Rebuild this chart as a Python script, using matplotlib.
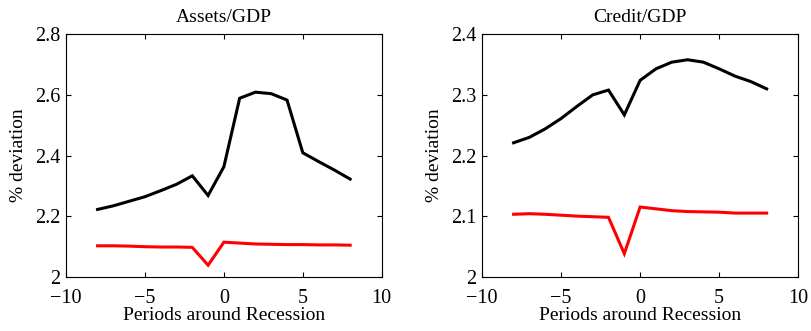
import matplotlib
matplotlib.use("Agg")
import matplotlib.pyplot as plt

plt.rcParams['font.family'] = ['Liberation Serif', 'DejaVu Serif']
plt.rcParams['axes.unicode_minus'] = True

periods = list(range(-8, 9))

assets_black = [2.222, 2.234, 2.249, 2.264, 2.284, 2.305, 2.333, 2.268, 2.363,
                2.589, 2.609, 2.604, 2.583, 2.409, 2.380, 2.352, 2.322]
assets_red = [2.102, 2.102, 2.101, 2.099, 2.098, 2.098, 2.097, 2.038, 2.114,
              2.111, 2.108, 2.107, 2.106, 2.106, 2.105, 2.105, 2.104]

credit_black = [2.221, 2.230, 2.244, 2.261, 2.281, 2.300, 2.308, 2.267, 2.324,
                2.343, 2.354, 2.358, 2.354, 2.343, 2.331, 2.322, 2.310]
credit_red = [2.103, 2.104, 2.103, 2.1015, 2.100, 2.099, 2.098, 2.038, 2.115,
              2.112, 2.109, 2.1075, 2.107, 2.1065, 2.105, 2.105, 2.105]

panels = [
    ("Assets/GDP", assets_black, assets_red, (2.0, 2.8), [2, 2.2, 2.4, 2.6, 2.8],
     ["2", "2.2", "2.4", "2.6", "2.8"]),
    ("Credit/GDP", credit_black, credit_red, (2.0, 2.4), [2, 2.1, 2.2, 2.3, 2.4],
     ["2", "2.1", "2.2", "2.3", "2.4"]),
]
x_ticks = [-10, -5, 0, 5, 10]
x_ticklabels = ["\u221210", "\u22125", "0", "5", "10"]

fig = plt.figure(figsize=(8.11, 3.31), dpi=100)
positions = [[0.0814, 0.164, 0.3893, 0.7324], [0.5943, 0.164, 0.3900, 0.7324]]

for pos, (title, black, red, ylim, yticks, yticklabels) in zip(positions, panels):
    ax = fig.add_axes(pos)
    ax.plot(periods, black, color="black", lw=2.2, solid_joinstyle="miter")
    ax.plot(periods, red, color="#ff0000", lw=2.2, solid_joinstyle="miter")
    ax.set_xlim(-10, 10)
    ax.set_ylim(*ylim)
    ax.set_xticks(x_ticks)
    ax.set_xticklabels(x_ticklabels)
    ax.set_yticks(yticks)
    ax.set_yticklabels(yticklabels)
    ax.tick_params(direction="in", top=True, right=True, length=3.5, width=0.8,
                   labelsize=14.5)
    ax.tick_params(axis="x", pad=9)
    ax.tick_params(axis="y", pad=4)
    for s in ax.spines.values():
        s.set_linewidth(0.8)
    ax.set_title(title, fontsize=14, pad=9)
    ax.set_xlabel("Periods around Recession", fontsize=14, labelpad=-1)
    ax.set_ylabel("% deviation", fontsize=14, labelpad=6)

fig.savefig("out.png", dpi=100)
